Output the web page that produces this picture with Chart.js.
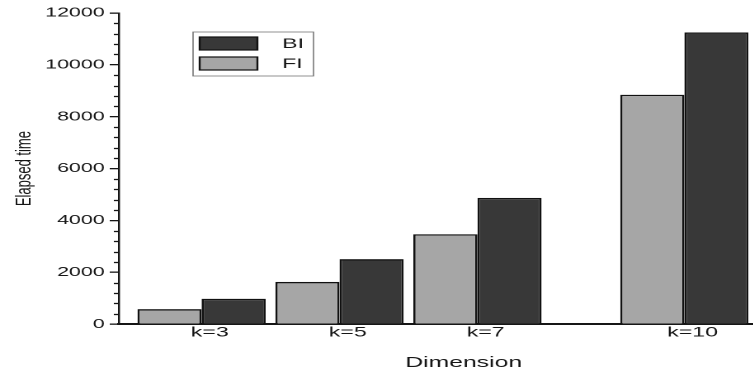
<!DOCTYPE html>
<html>
<head>
<meta charset="utf-8">
<script src="https://cdn.jsdelivr.net/npm/chart.js@4.4.1/dist/chart.umd.min.js"></script>
<style>
  html, body { margin: 0; padding: 0; background: #fff; overflow: hidden; }
  body { width: 753px; height: 373px; }
  /* the figure is printed wide: the whole drawing is stretched sideways */
  #wrap { position: relative; width: 500px; height: 373px; transform: scaleX(1.65); transform-origin: 0 0; }
</style>
</head>
<body>
<div id="wrap"><canvas id="barCanvas"></canvas></div>
<script>
const categories = ["k=3", "k=5", "k=7", "k=10"];
const dimensions = [3, 5, 7, 10];
const fiTimes = [580, 1630, 3470, 8850];
const biTimes = [980, 2510, 4870, 11250];
const yTicks = [0, 2000, 4000, 6000, 8000, 10000, 12000];
const minorStep = 400;

const FONT = "'Liberation Sans', Arial, Helvetica, sans-serif";
const INK = "#161616";

// small ticks between the labelled ones on the y axis
const minorTicks = {
  id: "minorTicks",
  afterDraw(chart) {
    const y = chart.scales.y;
    const ctx = chart.ctx;
    const x0 = chart.chartArea.left;
    ctx.save();
    ctx.strokeStyle = INK;
    ctx.lineWidth = 1.3;
    for (let v = 0; v <= y.max; v += minorStep) {
      if (yTicks.includes(v)) continue;
      const py = Math.round(y.getPixelForValue(v)) + 0.5;
      ctx.beginPath();
      ctx.moveTo(x0 - 3, py);
      ctx.lineTo(x0, py);
      ctx.stroke();
    }
    ctx.restore();
  },
};

// boxed legend inside the plot, BI listed first
const boxLegend = {
  id: "boxLegend",
  afterDraw(chart, args, opts) {
    const ctx = chart.ctx;
    const b = opts.box;
    ctx.save();
    ctx.strokeStyle = "#777";
    ctx.lineWidth = 0.8;
    ctx.strokeRect(b.x, b.y, b.w, b.h);
    const sets = chart.data.datasets.slice().reverse();
    ctx.font = "14px " + FONT;
    ctx.textBaseline = "middle";
    ctx.textAlign = "left";
    sets.forEach((ds, i) => {
      const top = b.y + opts.rowTop + i * opts.rowGap;
      ctx.fillStyle = ds.backgroundColor;
      ctx.fillRect(opts.swatchX, top, opts.swatchW, opts.swatchH);
      ctx.strokeStyle = "#111";
      ctx.lineWidth = 1.2;
      ctx.strokeRect(opts.swatchX, top, opts.swatchW, opts.swatchH);
      ctx.fillStyle = INK;
      ctx.fillText(ds.label, opts.textX, top + opts.swatchH / 2 + 0.5);
    });
    ctx.restore();
  },
};

const data = {
  datasets: [
    {
      label: "FI",
      data: dimensions.map((k, i) => ({ x: k, y: fiTimes[i] })),
      backgroundColor: "#a6a6a6",
      borderColor: "#111",
      borderWidth: 1.4,
    },
    {
      label: "BI",
      data: dimensions.map((k, i) => ({ x: k, y: biTimes[i] })),
      backgroundColor: "#383838",
      borderColor: "#111",
      borderWidth: 1.4,
    },
  ],
};

const config = {
  type: "bar",
  data: data,
  plugins: [minorTicks, boxLegend],
  options: {
    responsive: true,
    maintainAspectRatio: false,
    animation: false,
    devicePixelRatio: 2,
    categoryPercentage: 0.93,
    barPercentage: 1,
    layout: { padding: { top: 13, right: 10, bottom: 0, left: 4 } },
    plugins: {
      legend: { display: false },
      tooltip: { enabled: false },
      boxLegend: {
        box: { x: 117, y: 32, w: 73, h: 44 },
        rowTop: 5,
        rowGap: 20,
        swatchX: 121,
        swatchW: 35,
        swatchH: 13,
        textX: 171,
      },
    },
    scales: {
      x: {
        type: "linear",
        min: 1.8,
        max: 11.8,
        offset: false,
        grid: { display: false, drawTicks: false },
        border: { display: true, color: INK, width: 2 },
        afterBuildTicks: (scale) => {
          scale.ticks = dimensions.map((v) => ({ value: v }));
        },
        ticks: {
          color: INK,
          font: { family: FONT, size: 14 },
          padding: 0,
          labelOffset: 5,
          maxRotation: 0,
          autoSkip: false,
          callback: (value) => categories[dimensions.indexOf(value)],
        },
        title: {
          display: true,
          text: "Dimension",
          color: INK,
          font: { family: FONT, size: 15 },
          padding: { top: 13, bottom: 1 },
        },
      },
      y: {
        min: 0,
        max: 12000,
        afterBuildTicks: (scale) => {
          scale.ticks = yTicks.map((v) => ({ value: v }));
        },
        afterFit: (scale) => {
          scale.width = 68;
        },
        grid: {
          drawOnChartArea: false,
          drawTicks: true,
          tickLength: 5.5,
          color: INK,
          lineWidth: 1.3,
        },
        border: { display: true, color: INK, width: 1.2 },
        ticks: {
          color: INK,
          font: { family: FONT, size: 13 },
          padding: 3,
          callback: (value) => String(value),
        },
        title: {
          display: true,
          text: "Elapsed time",
          color: INK,
          font: { family: FONT, size: 13 },
          padding: { top: 3, bottom: 0 },
        },
      },
    },
  },
};

new Chart(document.getElementById("barCanvas"), config);
</script>
</body>
</html>
